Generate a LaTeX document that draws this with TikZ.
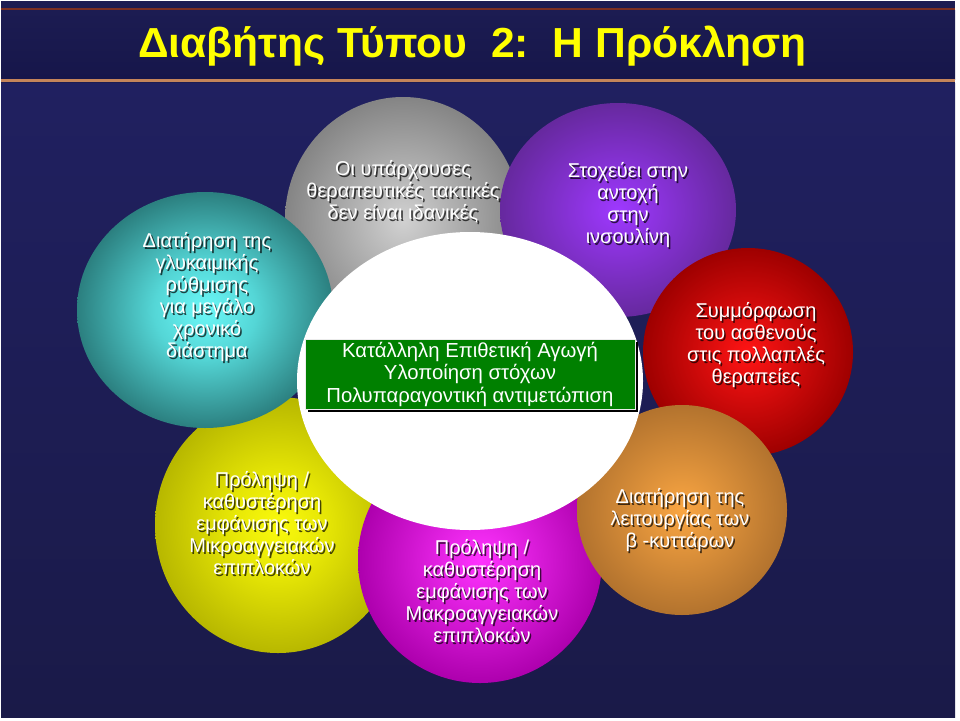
\documentclass[tikz,border=0pt]{standalone}
\usepackage{fontspec}
\setmainfont{Liberation Sans}
\usepackage{graphicx}
\usetikzlibrary{shapes.geometric,shadows,calc}

\definecolor{hdrline}{RGB}{122,46,34}
\definecolor{hdrline2}{RGB}{196,132,90}
\definecolor{navytop}{RGB}{28,28,82}
\definecolor{navymid}{RGB}{54,54,160}
\definecolor{navybot}{RGB}{22,22,74}
\definecolor{bodytop}{RGB}{32,32,96}
\definecolor{bodymid}{RGB}{52,52,150}
\definecolor{bodybot}{RGB}{26,26,72}
\definecolor{boxgreen}{RGB}{0,128,0}
\definecolor{titleyellow}{RGB}{255,255,0}

\pgfdeclareradialshading{shTeal}{\pgfpoint{0bp}{0bp}}{rgb(0bp)=(0.42,0.97,0.97); rgb(10bp)=(0.33,0.84,0.84); rgb(25bp)=(0.17,0.50,0.50); rgb(50bp)=(0.17,0.50,0.50)}
\pgfdeclareradialshading{shGray}{\pgfpoint{0bp}{0bp}}{rgb(0bp)=(0.82,0.82,0.82); rgb(25bp)=(0.52,0.52,0.52); rgb(50bp)=(0.52,0.52,0.52)}
\pgfdeclareradialshading{shPurple}{\pgfpoint{0bp}{0bp}}{rgb(0bp)=(0.62,0.22,1.0); rgb(25bp)=(0.40,0.16,0.62); rgb(50bp)=(0.40,0.16,0.62)}
\pgfdeclareradialshading{shRed}{\pgfpoint{0bp}{0bp}}{rgb(0bp)=(1.0,0.08,0.08); rgb(25bp)=(0.62,0.0,0.0); rgb(50bp)=(0.62,0.0,0.0)}
\pgfdeclareradialshading{shYellow}{\pgfpoint{0bp}{0bp}}{rgb(0bp)=(0.98,0.98,0.05); rgb(10bp)=(0.90,0.90,0.02); rgb(25bp)=(0.72,0.72,0.0); rgb(50bp)=(0.72,0.72,0.0)}
\pgfdeclareradialshading{shMagenta}{\pgfpoint{0bp}{0bp}}{rgb(0bp)=(1.0,0.2,1.0); rgb(25bp)=(0.68,0.0,0.68); rgb(50bp)=(0.68,0.0,0.68)}
\pgfdeclareradialshading{shOrange}{\pgfpoint{0bp}{0bp}}{rgb(0bp)=(0.98,0.65,0.26); rgb(25bp)=(0.70,0.45,0.18); rgb(50bp)=(0.70,0.45,0.18)}

\tikzset{
  bubble/.style={ellipse, inner sep=0pt, outer sep=0pt, shade, draw=none},
  btext/.style={text=white, align=center, inner sep=0pt, font=\fontsize{20}{22}\selectfont},
  bshadow/.style={text=black, text opacity=0.7, align=center, inner sep=0pt, font=\fontsize{20}{22}\selectfont},
  greenbox/.style={rectangle, fill=boxgreen, draw=white!85!gray, line width=0.8pt,
    minimum width=330pt, minimum height=70pt, inner sep=0pt,
    drop shadow={shadow xshift=3pt, shadow yshift=-3pt, fill=black, opacity=1},
    text=white, align=center, font=\fontsize{20.3}{22.5}\selectfont}
}

\newcommand{\shadowedtext}[3]{%
  \node[bshadow] (#1-s) at ($(#2)+(1.6,1.6)$) {#3};
  \node[btext] (#1) at (#2) {#3};
}

\begin{document}
\begin{tikzpicture}[x=1pt,y=-1pt]
\useasboundingbox (0,0) rectangle (960,720);
\fill[white] (0,0) rectangle (960,720);
% body background
\shade[top color=bodytop, middle color=bodymid, bottom color=bodybot] (1,83) rectangle (955,717);
% header
\fill[navytop] (1,1) rectangle (955,83);
\shade[top color=navytop, middle color=navymid, bottom color=navybot] (1,10) rectangle (955,79);
\draw[hdrline, line width=2pt] (1,8.5) -- (955,8.5);
\draw[hdrline2, line width=2.5pt] (1,80.5) -- (955,80.5);

\node[anchor=base, text=titleyellow, inner sep=0pt] (title) at (472.5,57)
  {\resizebox{669pt}{\height}{\fontsize{42}{42}\selectfont\bfseries Διαβήτης Τύπου\ \ 2:\ \ Η Πρόκληση}};

% bubbles (back to front)
\node[bubble, shading=shGray, minimum width=236pt, minimum height=246pt] (gray) at (403,220) {};
\node[bubble, shading=shPurple, minimum width=236pt, minimum height=214pt] (purple) at (618,210) {};
\node[bubble, shading=shRed, minimum width=210pt, minimum height=208pt] (red) at (748,352) {};
\node[bubble, shading=shYellow, minimum width=246pt, minimum height=256pt] (yellow) at (278,525) {};
\node[bubble, shading=shTeal, minimum width=256pt, minimum height=236pt] (teal) at (205,310) {};
\node[bubble, shading=shMagenta, minimum width=244pt, minimum height=246pt] (magenta) at (480,560) {};
\node[bubble, shading=shOrange, minimum width=210pt, minimum height=210pt] (orange) at (682,510) {};
\node[ellipse, inner sep=0pt, fill=white, minimum width=346pt, minimum height=298pt] (white) at (470,381) {};

% green box
\node[greenbox] (center) at (470,374) {Κατάλληλη Επιθετική Αγωγή\\Υλοποίηση στόχων\\Πολυπαραγοντική αντιμετώπιση};

% bubble texts
\shadowedtext{tgray}{403,192}{Οι υπάρχουσες\\θεραπευτικές τακτικές\\δεν είναι ιδανικές}
\shadowedtext{tteal}{207,297}{Διατήρηση της\\γλυκαιμικής\\ρύθμισης\\για μεγάλο\\χρονικό\\διάστημα}
\shadowedtext{tpurple}{628,205}{Στοχεύει στην\\αντοχή\\στην\\ινσουλίνη}
\shadowedtext{tred}{756,345}{Συμμόρφωση\\του ασθενούς\\στις πολλαπλές\\θεραπείες}
\shadowedtext{tyellow}{262,523}{Πρόληψη /\\καθυστέρηση\\εμφάνισης των\\Μικροαγγειακών\\επιπλοκών}
\shadowedtext{tmagenta}{482,591}{Πρόληψη /\\καθυστέρηση\\εμφάνισης των\\Μακροαγγειακών\\επιπλοκών}
\shadowedtext{torange}{680,520}{Διατήρηση της\\λειτουργίας των\\β -κυττάρων}
\end{tikzpicture}
\end{document}
